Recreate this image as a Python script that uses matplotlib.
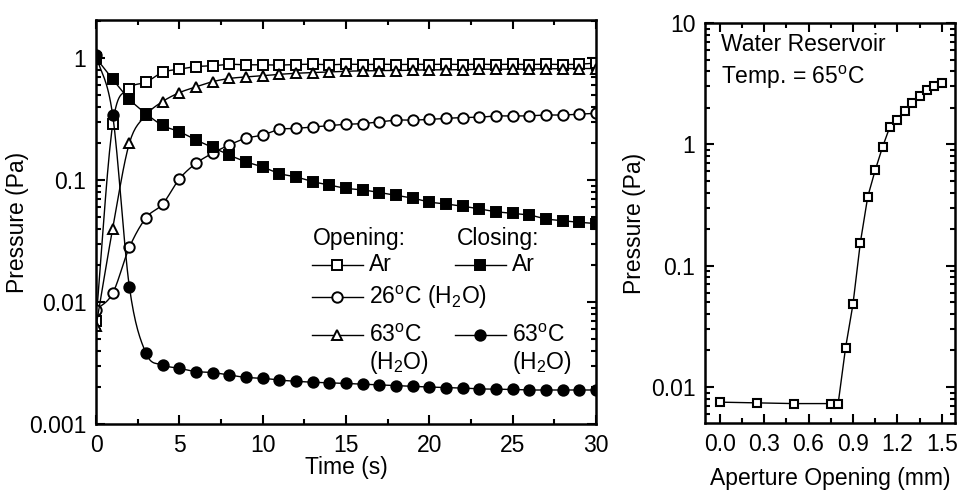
import numpy as np
import matplotlib
matplotlib.use("Agg")
import matplotlib.pyplot as plt
from matplotlib.ticker import MultipleLocator, LogLocator, FixedLocator, FuncFormatter, NullFormatter

plt.rcParams["font.family"] = ["Liberation Sans", "DejaVu Sans"]
plt.rcParams["mathtext.fontset"] = "custom"
plt.rcParams["mathtext.rm"] = "Liberation Sans"
plt.rcParams["mathtext.it"] = "Liberation Sans:italic"
plt.rcParams["font.size"] = 16.5

# time response after opening / closing the aperture
time_s = np.arange(0, 31)
open_ar = [0.007, 0.286, 0.557, 0.632, 0.764, 0.81, 0.85, 0.865, 0.888, 0.88,
           0.88, 0.875, 0.885, 0.89, 0.88, 0.89, 0.885, 0.89, 0.885, 0.89,
           0.885, 0.89, 0.885, 0.89, 0.885, 0.89, 0.885, 0.89, 0.885, 0.89, 0.91]
open_26c = [0.0086, 0.0118, 0.028, 0.049, 0.0636, 0.102, 0.137, 0.166, 0.194, 0.22,
            0.234, 0.26, 0.265, 0.272, 0.28, 0.286, 0.29, 0.30, 0.31, 0.31,
            0.314, 0.32, 0.325, 0.327, 0.335, 0.335, 0.336, 0.341, 0.341, 0.347, 0.352]
open_63c = [0.0063, 0.040, 0.20, 0.34, 0.44, 0.52, 0.58, 0.64, 0.68, 0.70,
            0.716, 0.735, 0.75, 0.76, 0.77, 0.78, 0.785, 0.79, 0.79, 0.795,
            0.80, 0.80, 0.805, 0.81, 0.81, 0.81, 0.815, 0.815, 0.82, 0.82, 0.82]
close_ar = [1.0, 0.67, 0.46, 0.35, 0.28, 0.249, 0.213, 0.185, 0.160, 0.141,
            0.128, 0.113, 0.106, 0.097, 0.091, 0.0855, 0.083, 0.079, 0.075, 0.071,
            0.066, 0.0636, 0.061, 0.058, 0.055, 0.0533, 0.0517, 0.048, 0.0464, 0.045, 0.044]
close_63c = [1.05, 0.34, 0.0134, 0.0038, 0.00305, 0.00286, 0.00269, 0.00264, 0.00252, 0.00241,
             0.00237, 0.00229, 0.00224, 0.0022, 0.00218, 0.00215, 0.00212, 0.00209, 0.00206, 0.00203,
             0.00201, 0.00199, 0.00197, 0.00194, 0.00193, 0.00192, 0.0019, 0.0019, 0.0019, 0.0019, 0.0019]

# steady pressure vs aperture opening, water reservoir at 65 C
aperture_mm = [0.0, 0.25, 0.5, 0.75, 0.8, 0.85, 0.9, 0.95, 1.0, 1.05,
               1.1, 1.15, 1.2, 1.25, 1.3, 1.35, 1.4, 1.45, 1.5]
pressure_pa = [0.0075, 0.0074, 0.0073, 0.0073, 0.0073, 0.021, 0.048, 0.155, 0.37, 0.61,
               0.95, 1.40, 1.60, 1.90, 2.21, 2.52, 2.83, 3.04, 3.22]

deg = r"$^{\mathrm{o}}$"
h2o = r"(H$_{\mathrm{2}}$O)"

series = [
    (open_ar, dict(marker="s", mfc="white")),
    (open_26c, dict(marker="o", mfc="white")),
    (open_63c, dict(marker="^", mfc="white")),
    (close_ar, dict(marker="s", mfc="black")),
    (close_63c, dict(marker="o", mfc="black")),
]


def smooth_log(x, y, n=16):
    # cubic Hermite through the points in log space, for the connecting curve only
    x = np.asarray(x, float)
    ly = np.log10(np.asarray(y, float))
    m = np.gradient(ly, x)
    s = np.linspace(0, 1, n, endpoint=False)
    h00 = 2 * s**3 - 3 * s**2 + 1
    h10 = s**3 - 2 * s**2 + s
    h01 = -2 * s**3 + 3 * s**2
    h11 = s**3 - s**2
    xs, ys = [], []
    for i in range(len(x) - 1):
        h = x[i + 1] - x[i]
        xs.append(x[i] + s * h)
        ys.append(h00 * ly[i] + h10 * h * m[i] + h01 * ly[i + 1] + h11 * h * m[i + 1])
    xs.append([x[-1]])
    ys.append([ly[-1]])
    return np.concatenate(xs), 10 ** np.concatenate(ys)


def style_axis(ax):
    ax.tick_params(which="both", direction="in", top=True, right=True, width=1.5, pad=7)
    ax.tick_params(which="major", length=6.5)
    ax.tick_params(which="minor", length=3.5)
    for sp in ax.spines.values():
        sp.set_linewidth(1.8)


fig = plt.figure(figsize=(9.61, 5.0), dpi=100)
ax1 = fig.add_axes([0.0999, 0.152, 0.5203, 0.808])
ax2 = fig.add_axes([0.7336, 0.154, 0.2602, 0.80])

for vals, kw in series:
    xs, ys = smooth_log(time_s, vals)
    ax1.plot(xs, ys, color="black", lw=1.0)
    ax1.plot(time_s, vals, ls="none", ms=7.5, mew=1.4, mec="black", **kw)

ax1.set_yscale("log")
ax1.set_xlim(0, 30)
ax1.set_ylim(0.001, 2.05)
ax1.xaxis.set_major_locator(MultipleLocator(5))
ax1.xaxis.set_minor_locator(MultipleLocator(2.5))
ax1.yaxis.set_major_locator(FixedLocator([0.001, 0.01, 0.1, 1]))
ax1.yaxis.set_minor_locator(LogLocator(base=10, subs=np.arange(2, 10)))
ax1.yaxis.set_major_formatter(FuncFormatter(lambda v, p: "%g" % v))
ax1.yaxis.set_minor_formatter(NullFormatter())
style_axis(ax1)
ax1.set_xlabel("Time (s)")
ax1.set_ylabel("Pressure (Pa)")
ax1.xaxis.set_label_coords(0.5, -0.08)
ax1.yaxis.set_label_coords(-0.135, 0.5)

# two-column key drawn in axes fractions
tr = ax1.transAxes
ax1.text(0.434, 0.460, "Opening:", transform=tr, va="center", ha="left")
ax1.text(0.722, 0.460, "Closing:", transform=tr, va="center", ha="left")
key_rows = [
    (0.432, 0.394, series[0][1], "Ar"),
    (0.432, 0.314, series[1][1], "26" + deg + "C " + h2o),
    (0.432, 0.220, series[2][1], "63" + deg + "C"),
    (0.718, 0.394, series[3][1], "Ar"),
    (0.718, 0.220, series[4][1], "63" + deg + "C"),
]
for x0, y0, kw, label in key_rows:
    ax1.plot([x0, x0 + 0.102], [y0, y0], transform=tr, color="black", lw=1.0, clip_on=False)
    ax1.plot([x0 + 0.05], [y0], transform=tr, color="black", ms=7.5, mew=1.4, mec="black",
             clip_on=False, **kw)
    ax1.text(x0 + 0.113, y0, label, transform=tr, va="center", ha="left")
ax1.text(0.545, 0.153, h2o, transform=tr, va="center", ha="left")
ax1.text(0.831, 0.153, h2o, transform=tr, va="center", ha="left")

ax2.plot(aperture_mm, pressure_pa, color="black", lw=1.0, marker="s", ms=6, mfc="white",
         mec="black", mew=1.5)
ax2.set_yscale("log")
ax2.set_xlim(-0.1, 1.59)
ax2.set_ylim(0.00505, 10)
ax2.xaxis.set_major_locator(MultipleLocator(0.3))
ax2.xaxis.set_minor_locator(MultipleLocator(0.15))
ax2.xaxis.set_major_formatter(FuncFormatter(lambda v, p: "%.1f" % v))
ax2.yaxis.set_major_locator(FixedLocator([0.01, 0.1, 1, 10]))
ax2.yaxis.set_minor_locator(LogLocator(base=10, subs=np.arange(2, 10)))
ax2.yaxis.set_major_formatter(FuncFormatter(lambda v, p: "%g" % v))
ax2.yaxis.set_minor_formatter(NullFormatter())
style_axis(ax2)
ax2.set_xlabel("Aperture Opening (mm)")
ax2.set_ylabel("Pressure (Pa)")
ax2.xaxis.set_label_coords(0.5, -0.11)
ax2.yaxis.set_label_coords(-0.235, 0.5)
ax2.text(0.064, 0.945, "Water Reservoir", transform=ax2.transAxes, va="center", ha="left")
ax2.text(0.064, 0.865, "Temp. = 65" + deg + "C", transform=ax2.transAxes, va="center", ha="left")

fig.savefig("out.png", dpi=100)
